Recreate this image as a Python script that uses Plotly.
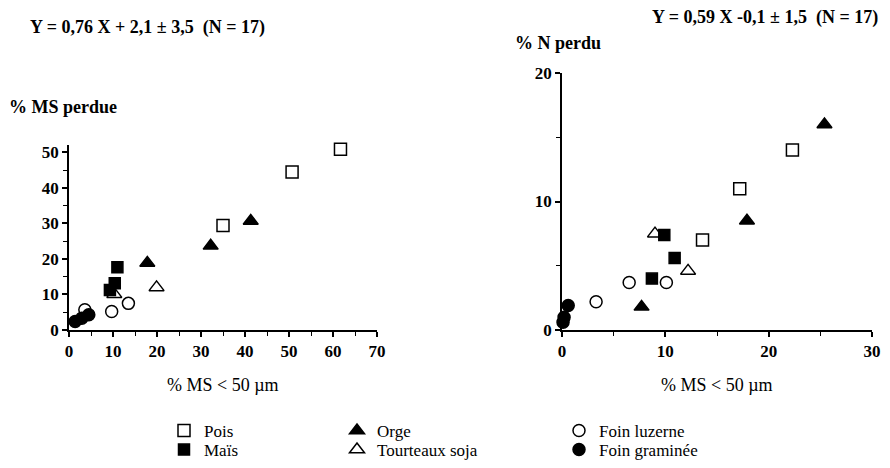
import plotly.graph_objects as go

PAGE_OFF = 8            # default body margin of the written html page
W, H = 890 - PAGE_OFF, 468 - PAGE_OFF

# ---- data ----
series_names = ["Pois", "Maïs", "Orge", "Tourteaux soja", "Foin luzerne", "Foin graminée"]

# left panel : % MS < 50 µm  vs  % MS perdue
ms_pois_x = [61.7, 50.7, 35.0]
ms_pois_y = [50.9, 44.5, 29.4]
ms_mais_x = [11.0, 10.4, 9.3]
ms_mais_y = [17.7, 13.2, 11.3]
ms_orge_x = [41.3, 32.2, 17.8]
ms_orge_y = [30.7, 23.7, 18.9]
ms_soja_x = [10.3, 19.9]
ms_soja_y = [10.1, 12.0]
ms_luz_x = [3.6, 9.7, 13.5]
ms_luz_y = [5.7, 5.2, 7.5]
ms_gram_x = [1.4, 2.9, 4.5]
ms_gram_y = [2.4, 3.3, 4.3]

# right panel : % MS < 50 µm  vs  % N perdu
n_pois_x = [22.3, 17.2, 13.6]
n_pois_y = [14.0, 11.0, 7.0]
n_mais_x = [9.9, 10.9, 8.7]
n_mais_y = [7.4, 5.6, 4.0]
n_orge_x = [25.4, 17.9, 7.7]
n_orge_y = [16.0, 8.5, 1.8]
n_soja_x = [9.0, 12.2]
n_soja_y = [7.5, 4.6]
n_luz_x = [6.5, 10.1, 3.3]
n_luz_y = [3.7, 3.7, 2.2]
n_gram_x = [0.6, 0.2, 0.1]
n_gram_y = [1.9, 1.0, 0.6]

left_x_ticks = [0, 10, 20, 30, 40, 50, 60, 70]
left_y_ticks = [0, 10, 20, 30, 40, 50]
right_x_ticks = [0, 10, 20, 30]
right_y_ticks = [0, 10, 20]

title_left = "Y = 0,76 X + 2,1 ± 3,5 \u00a0(N = 17)"
title_right = "Y = 0,59 X -0,1 ± 1,5 \u00a0(N = 17)"

# ---- styling ----
FONT = "Liberation Serif, Times New Roman, serif"
symbols = ["square-open", "square", "triangle-up", "triangle-up-open", "circle-open", "circle"]
sizes = [12, 11, 13, 13, 12, 12]
legend_ids = ["legend", "legend2", "legend3", "legend4", "legend5", "legend6"]

ms_data = [(ms_pois_x, ms_pois_y), (ms_mais_x, ms_mais_y), (ms_orge_x, ms_orge_y),
           (ms_soja_x, ms_soja_y), (ms_luz_x, ms_luz_y), (ms_gram_x, ms_gram_y)]
n_data = [(n_pois_x, n_pois_y), (n_mais_x, n_mais_y), (n_orge_x, n_orge_y),
          (n_soja_x, n_soja_y), (n_luz_x, n_luz_y), (n_gram_x, n_gram_y)]

fig = go.Figure()
for i, name in enumerate(series_names):
    mk = dict(symbol=symbols[i], size=sizes[i], color="black", line=dict(color="black", width=1.5))
    fig.add_trace(go.Scatter(x=ms_data[i][0], y=ms_data[i][1], mode="markers", name=name,
                             marker=mk, legendgroup=name, legend=legend_ids[i],
                             xaxis="x", yaxis="y", cliponaxis=False))
    fig.add_trace(go.Scatter(x=n_data[i][0], y=n_data[i][1], mode="markers", name=name,
                             marker=mk, legendgroup=name, showlegend=False,
                             xaxis="x2", yaxis="y2", cliponaxis=False))


# positions below are given in page pixels of the 890x468 window
def px_x(p):
    return (p - PAGE_OFF) / W


def px_y(p):
    return 1 - (p - PAGE_OFF) / H


axis_common = dict(showline=True, linecolor="black", linewidth=1.5, ticks="outside",
                   ticklen=5, tickwidth=1.5, tickcolor="black", showgrid=False, zeroline=False,
                   automargin=False,
                   tickfont=dict(family=FONT, size=17, color="black", weight="bold"),
                   minor=dict(ticks="outside", ticklen=4, tickwidth=1.2, tickcolor="black", dtick=5))

fig.update_layout(
    width=W, height=H, margin=dict(l=0, r=0, t=0, b=0, autoexpand=False),
    paper_bgcolor="white", plot_bgcolor="white",
    font=dict(family=FONT, color="black"),
    xaxis=dict(domain=[px_x(69), px_x(377)], range=[0, 70], tickvals=left_x_ticks,
               anchor="y", **axis_common),
    yaxis=dict(domain=[px_y(330), px_y(145)], range=[0, 52.1], tickvals=left_y_ticks,
               anchor="x", **axis_common),
    xaxis2=dict(domain=[px_x(562), px_x(872)], range=[0, 30], tickvals=right_x_ticks,
                anchor="y2", **axis_common),
    yaxis2=dict(domain=[px_y(330), px_y(73)], range=[0, 20], tickvals=right_y_ticks,
                anchor="x2", **axis_common),
)

leg_common = dict(font=dict(family=FONT, size=17, color="black"), bgcolor="rgba(0,0,0,0)",
                  yanchor="top", xanchor="left", orientation="v", tracegroupgap=0)
col_x = [164, 164, 337, 337, 559, 559]
row_y = [413, 432, 413, 432, 413, 432]
legend_layout = {}
for i, lid in enumerate(legend_ids):
    legend_layout[lid] = dict(x=px_x(col_x[i]), y=px_y(row_y[i]), **leg_common)
fig.update_layout(**legend_layout)

ann_font = dict(family=FONT, size=18, color="black")
annotations = [
    dict(text=title_left, x=px_x(28), y=px_y(28), xanchor="left", yanchor="middle",
         font=dict(family=FONT, size=18, color="black", weight="bold")),
    dict(text=title_right, x=px_x(880), y=px_y(17), xanchor="right", yanchor="middle",
         font=dict(family=FONT, size=18, color="black", weight="bold")),
    dict(text="% MS perdue", x=px_x(7), y=px_y(107), xanchor="left", yanchor="middle",
         font=dict(family=FONT, size=18, color="black", weight="bold")),
    dict(text="% N perdu", x=px_x(603), y=px_y(43), xanchor="right", yanchor="middle",
         font=dict(family=FONT, size=18, color="black", weight="bold")),
    dict(text="% MS < 50 µm", x=px_x(223), y=px_y(385), xanchor="center", yanchor="middle",
         font=ann_font),
    dict(text="% MS < 50 µm", x=px_x(717), y=px_y(385), xanchor="center", yanchor="middle",
         font=ann_font),
]
for a in annotations:
    a.update(xref="paper", yref="paper", showarrow=False)
fig.update_layout(annotations=annotations)

fig.write_html("out.html")
